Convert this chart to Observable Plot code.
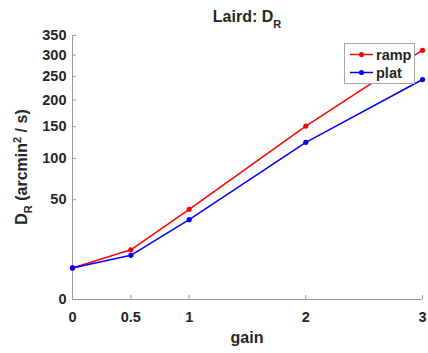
<!DOCTYPE html>
<html>
<head>
<meta charset="utf-8">
<script src="https://cdn.jsdelivr.net/npm/d3@7"></script>
<script src="https://cdn.jsdelivr.net/npm/@observablehq/plot@0.6"></script>
<style>
  html, body { margin: 0; padding: 0; background: #fff; }
  #chart { width: 428px; height: 353px; }
</style>
</head>
<body>
<div id="chart"></div>
<script>
// Diffusion constant D_R against gain, for the ramp and plateau conditions
const gain = [0, 0.5, 1, 2, 3];
const ramp = [5, 12.4, 40.8, 151, 312];
const plat = [5, 9.8, 32, 124, 243];
const seriesNames = ["ramp", "plat"];
const seriesColors = ["#ff0000", "#0000ff"];
const xTicks = [0, 0.5, 1, 2, 3];
const yTicks = [0, 50, 100, 150, 200, 250, 300, 350];

const rows = [
  ...gain.map((g, i) => ({gain: g, value: ramp[i], series: "ramp"})),
  ...gain.map((g, i) => ({gain: g, value: plat[i], series: "plat"}))
];

const axisColor = "#999999";
const textColor = "#262626";
const font = "'Liberation Sans', Arial, Helvetica, sans-serif";

const chart = Plot.plot({
  width: 428,
  height: 353,
  marginLeft: 72,
  marginRight: 6,
  marginTop: 35,
  marginBottom: 54,
  style: {fontFamily: font, fontWeight: "bold", fontSize: "14.5px", color: textColor, background: "#fff", overflow: "visible"},
  x: {domain: [0, 3]},
  y: {type: "sqrt", domain: [0, 350]},
  color: {domain: seriesNames, range: seriesColors},
  marks: [
    Plot.ruleX([0], {stroke: axisColor}),
    Plot.ruleY([0], {stroke: axisColor}),
    // inward tick marks
    Plot.ruleY(yTicks, {y: d => d, x1: 0, x2: 0, insetRight: -4, stroke: axisColor}),
    Plot.ruleX(xTicks, {x: d => d, y1: 0, y2: 0, insetTop: -4, stroke: axisColor}),
    Plot.axisY(yTicks, {tickSize: 0, tickPadding: 6, label: null, fill: textColor, tickFormat: d => String(d)}),
    Plot.axisX(xTicks, {tickSize: 0, tickPadding: 12, label: null, fill: textColor, tickFormat: d => String(d)}),
    Plot.line(rows, {x: "gain", y: "value", z: "series", stroke: "series", strokeWidth: 1.5}),
    Plot.dot(rows, {x: "gain", y: "value", fill: "series", r: 2.6})
  ]
});

document.getElementById("chart").appendChild(chart);

const svg = d3.select(chart);

// Title with subscript
const title = svg.append("text")
  .attr("x", 247).attr("y", 22)
  .attr("text-anchor", "middle")
  .attr("fill", textColor)
  .style("font-family", font).style("font-weight", "bold").style("font-size", "16px");
title.append("tspan").text("Laird: D");
title.append("tspan").attr("dy", 6).style("font-size", "11px").text("R");

// Y axis label
const ylab = svg.append("text")
  .attr("transform", "translate(27,167) rotate(-90)")
  .attr("text-anchor", "middle")
  .attr("fill", textColor)
  .style("font-family", font).style("font-weight", "bold").style("font-size", "16px");
ylab.append("tspan").text("D");
ylab.append("tspan").attr("dy", 5).style("font-size", "11px").text("R");
ylab.append("tspan").attr("dy", -5).text(" (arcmin");
ylab.append("tspan").attr("dy", -6).style("font-size", "11px").text("2");
ylab.append("tspan").attr("dy", 6).text(" / s)");

// X axis label
svg.append("text")
  .attr("x", 247).attr("y", 343)
  .attr("text-anchor", "middle")
  .attr("fill", textColor)
  .style("font-family", font).style("font-weight", "bold").style("font-size", "16px")
  .text("gain");

// Legend
const legend = svg.append("g");
legend.append("rect")
  .attr("x", 344.5).attr("y", 43.5).attr("width", 70).attr("height", 40)
  .attr("fill", "#fff").attr("stroke", "#a6a6a6");
seriesNames.forEach((name, i) => {
  const y = 54.5 + i * 18;
  legend.append("line")
    .attr("x1", 350).attr("x2", 373).attr("y1", y).attr("y2", y)
    .attr("stroke", seriesColors[i]).attr("stroke-width", 1.5);
  legend.append("circle")
    .attr("cx", 361.5).attr("cy", y).attr("r", 2.6).attr("fill", seriesColors[i]);
  legend.append("text")
    .attr("x", 376).attr("y", y + 5)
    .attr("text-anchor", "start")
    .attr("fill", textColor)
    .style("font-family", font).style("font-weight", "bold").style("font-size", "14.5px")
    .text(name);
});
</script>
</body>
</html>
